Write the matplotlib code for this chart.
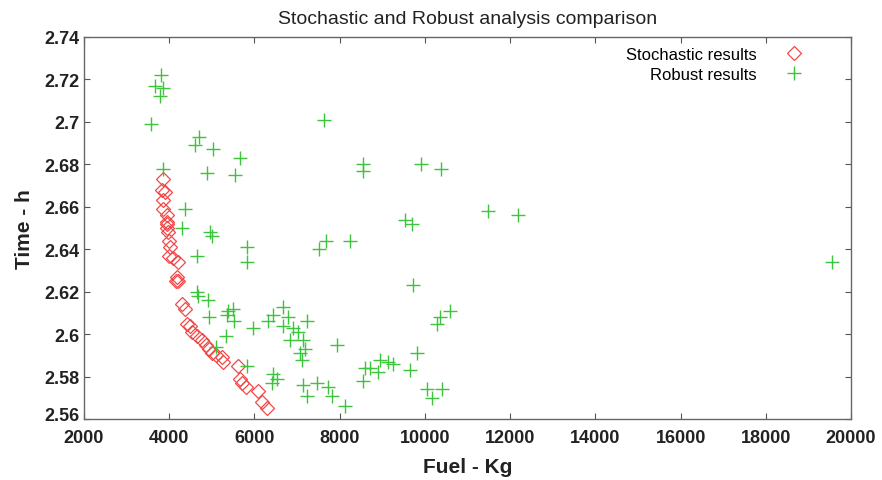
import matplotlib
matplotlib.use("Agg")
import matplotlib.pyplot as plt
from matplotlib.transforms import ScaledTranslation

plt.rcParams['font.family'] = ['Liberation Sans', 'DejaVu Sans']

# Stochastic optimisation results (fuel in kg, time in h)
stoch_fuel = [3854, 3831, 3901, 3854, 3854, 3948, 3948, 3948, 3948, 3971, 3995, 4018, 3995,
              4089, 4206, 4183, 4206, 4159, 4300, 4370, 4417, 4488, 4535, 4652, 4769, 4863,
              4934, 5004, 5098, 5239, 5262, 5614, 5661, 5708, 5802, 6084, 6178, 6295]
stoch_time = [2.673, 2.668, 2.667, 2.663, 2.659, 2.656, 2.653, 2.652, 2.650, 2.648, 2.644,
              2.641, 2.637, 2.636, 2.634, 2.627, 2.625, 2.625, 2.614, 2.612, 2.605, 2.604,
              2.601, 2.599, 2.597, 2.595, 2.593, 2.591, 2.590, 2.589, 2.587, 2.585, 2.579,
              2.577, 2.575, 2.573, 2.568, 2.565]

# Robust optimisation results
robust_fuel = [3807, 3666, 3854, 3784, 3572, 4699, 4605, 5028, 5661, 3854, 4887, 5544,
               7633, 8548, 8548, 4370, 9909, 10379, 9534, 9698, 11482, 12186, 19556,
               4300, 4957, 5004, 5826, 5826, 4652, 7680, 7516, 8243,
               4652, 4676, 4910, 4934, 5380, 5497, 5356, 5521, 5333, 5966, 5098, 5826,
               6671, 6436, 6788, 6318, 6671, 7234, 6905, 7022, 7140, 6835, 7938, 7187,
               7070, 7117, 6436, 6530, 6412, 7140, 7469, 7727, 7234, 7821, 8126,
               8595, 8548, 8712, 8900, 8947, 9135, 9252, 9651, 9815, 9722, 10285, 10355,
               10590, 10050, 10168, 10402]
robust_time = [2.722, 2.717, 2.716, 2.712, 2.699, 2.693, 2.689, 2.687, 2.683, 2.678, 2.676,
               2.675, 2.701, 2.680, 2.677, 2.659, 2.680, 2.678, 2.654, 2.652, 2.658, 2.656,
               2.634,
               2.650, 2.648, 2.646, 2.641, 2.634, 2.637, 2.644, 2.640, 2.644,
               2.620, 2.618, 2.616, 2.608, 2.611, 2.612, 2.609, 2.606, 2.599, 2.603, 2.594,
               2.585,
               2.613, 2.609, 2.608, 2.606, 2.604, 2.606, 2.603, 2.601, 2.597, 2.597, 2.595,
               2.593, 2.591, 2.588, 2.581, 2.579, 2.577, 2.576, 2.577, 2.575, 2.571, 2.571,
               2.566,
               2.584, 2.578, 2.584, 2.582, 2.588, 2.587, 2.586, 2.583, 2.591, 2.623, 2.605,
               2.608, 2.611, 2.574, 2.570, 2.574]

x_ticks = [2000, 4000, 6000, 8000, 10000, 12000, 14000, 16000, 18000, 20000]
y_ticks = [2.56, 2.58, 2.60, 2.62, 2.64, 2.66, 2.68, 2.70, 2.72, 2.74]
y_tick_labels = ["2.56", "2.58", "2.6", "2.62", "2.64", "2.66", "2.68", "2.7", "2.72", "2.74"]

fig = plt.figure(figsize=(8.82, 4.81), dpi=100)
ax = fig.add_axes([0.0952, 0.1268, 0.8697, 0.7942])

ax.plot(stoch_fuel, stoch_time, linestyle='none', marker='D', markersize=7.5,
        markerfacecolor='none', markeredgecolor='#f04848', markeredgewidth=0.9,
        label='Stochastic results')
ax.plot(robust_fuel, robust_time, linestyle='none', marker='+', markersize=10,
        color='#3cc43c', markeredgewidth=1.0, label='Robust results')

ax.set_xlim(2000, 20000)
ax.set_ylim(2.56, 2.74)
ax.set_xticks(x_ticks)
ax.set_xticklabels([str(v) for v in x_ticks], fontweight='bold', color='#222222')
ax.set_yticks(y_ticks)
ax.set_yticklabels(y_tick_labels, fontweight='bold', color='#222222')

ax.tick_params(direction='in', top=True, right=True, length=4, width=0.8,
               color='#555555', labelsize=13)
ax.tick_params(axis='x', pad=7)
ax.tick_params(axis='y', pad=3)

# lift the bottom y label so it clears the first x label
lbl = ax.get_yticklabels()[0]
lbl.set_transform(lbl.get_transform() + ScaledTranslation(0, 4 / 72, fig.dpi_scale_trans))

for sp in ax.spines.values():
    sp.set_color('#666666')
    sp.set_linewidth(1.0)

ax.set_title('Stochastic and Robust analysis comparison', fontsize=14, pad=10,
             color='#222222')
ax.set_xlabel('Fuel - Kg', fontsize=15, fontweight='bold', labelpad=8, color='#222222')
ax.set_ylabel('Time - h', fontsize=15, fontweight='bold', labelpad=8, color='#222222')

ax.legend(loc='upper right', frameon=False, markerfirst=False, fontsize=12,
          handletextpad=1.2, borderaxespad=0.2, labelspacing=0.3,
          bbox_to_anchor=(0.96, 1.0))

fig.savefig('out.png', dpi=100)
